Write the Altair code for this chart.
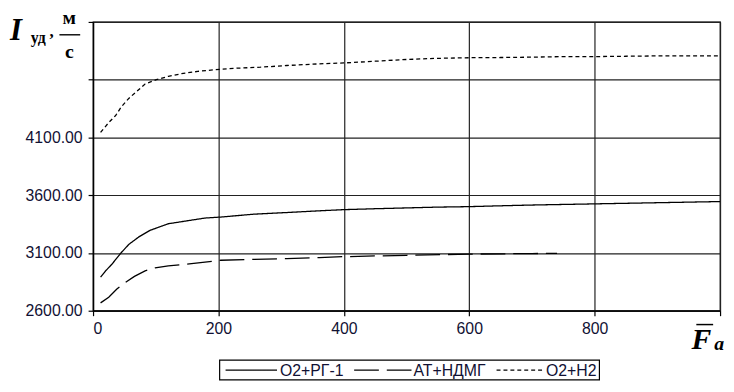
import altair as alt
import pandas as pd

# ---- data ----
s1_name = "O2+РГ-1"
s1_x = [12, 20, 30, 44, 57, 73, 91, 120, 151, 178, 204, 257, 309, 361, 400, 450, 500, 550, 600, 640, 700, 800, 900, 1000]
s1_y = [2890, 2945, 3002, 3097, 3174, 3239, 3296, 3353, 3379, 3402, 3411, 3436, 3450, 3465, 3475, 3483, 3490, 3497, 3501, 3507, 3515, 3525, 3535, 3545]

s2_name = "АТ+НДМГ"
s2_x = [12, 25, 38, 50, 66, 83, 99, 120, 138, 157, 204, 257, 309, 361, 400, 500, 600, 700, 740]
s2_y = [2668, 2717, 2788, 2840, 2897, 2945, 2971, 2988, 2997, 3008, 3037, 3045, 3051, 3060, 3068, 3080, 3090, 3095, 3097]

s3_name = "O2+H2"
s3_x = [12, 25, 36, 45, 57, 70, 83, 101, 120, 141, 167, 194, 230, 267, 309, 361, 400, 450, 500, 550, 600, 650, 700, 750, 800, 850, 900, 950, 1000]
s3_y = [4144, 4229, 4290, 4364, 4438, 4500, 4563, 4600, 4629, 4652, 4672, 4686, 4700, 4708, 4723, 4737, 4745, 4760, 4775, 4785, 4790, 4792, 4795, 4800, 4800, 4803, 4806, 4806, 4806]

series_order = [s1_name, s2_name, s3_name]
series_dash = [[1, 0], [25, 8], [4, 3]]
x_ticks = [0, 200, 400, 600, 800, 1000]
y_ticks = [2600, 3100, 3600, 4100, 4600, 5100]

rows = []
for name, xs, ys in [(s1_name, s1_x, s1_y), (s2_name, s2_x, s2_y), (s3_name, s3_x, s3_y)]:
    for xv, yv in zip(xs, ys):
        rows.append({"series": name, "x": xv, "y": yv})
df = pd.DataFrame(rows)

W, H = 634, 292
FONT = "Liberation Sans"
SERIF = "Liberation Serif"
LBL = "#111133"

lines = alt.Chart(df).mark_line(color="black", strokeWidth=1.3).encode(
    x=alt.X("x:Q", scale=alt.Scale(domain=[0, 1000], nice=False, zero=False),
            axis=alt.Axis(values=x_ticks, title=None, grid=True,
                          labelExpr="datum.value < 1000 ? datum.label : ''",
                          format="d")),
    y=alt.Y("y:Q", scale=alt.Scale(domain=[2600, 5100], nice=False, zero=False),
            axis=alt.Axis(values=y_ticks, title=None, grid=True,
                          labelExpr="datum.value <= 4100 ? format(datum.value, '.2f') : ''")),
    strokeDash=alt.StrokeDash("series:N",
                              scale=alt.Scale(domain=series_order, range=series_dash),
                              legend=None),
    detail="series:N",
)

one = pd.DataFrame({"a": [0]})

def txt(t, x, y, size, font=SERIF, italic=False, bold=True, align="left", baseline="alphabetic", color="black"):
    return alt.Chart(one).mark_text(
        text=t, font=font, fontSize=size, fontWeight="bold" if bold else "normal",
        fontStyle="italic" if italic else "normal", align=align, baseline=baseline,
        color=color
    ).encode(x=alt.value(x), y=alt.value(y))

def rule(x1, x2, y, dash=None, width=1.2):
    kw = {"color": "black", "strokeWidth": width}
    if dash is not None:
        kw["strokeDash"] = dash
    return alt.Chart(one).mark_rule(**kw).encode(
        x=alt.value(x1), x2=alt.value(x2), y=alt.value(y))

decor = [
    txt("I", -84, 18, 31, italic=True),
    txt("уд", -63, 21, 16),
    txt(",", -44, 15, 17),
    txt("м", -24, 2, 20, align="center"),
    rule(-34, -13, 13, width=1.4),
    txt("с", -24, 36, 20, align="center"),
    txt("F", 605, 331, 30, italic=True),
    rule(610, 627, 306, width=1.5),
    txt("a", 628, 332, 20, italic=True),
]

# legend drawn as a framed box below the plot
leg_box = alt.Chart(one).mark_rect(fill="white", stroke="black", strokeWidth=1.2).encode(
    x=alt.value(128), x2=alt.value(512), y=alt.value(342), y2=alt.value(362))
leg_y = 352
leg_sym = [(134, 186), (264, 323), (408, 456)]
leg_txt = [189, 324, 458]
legend = [leg_box]
for name, dash, (a, b), tx in zip(series_order, series_dash, leg_sym, leg_txt):
    legend.append(rule(a, b, leg_y, dash=dash, width=1.2))
    legend.append(txt(name, tx, leg_y + 1, 16, font=FONT, bold=False, baseline="middle", color=LBL))

chart = alt.layer(lines, *decor, *legend).properties(
    width=W, height=H,
    padding={"left": 86, "top": 12, "right": 6, "bottom": 72},
    autosize=alt.AutoSizeParams(type="none"),
    background="white",
).configure_view(stroke="black", strokeWidth=1.3).configure_axis(
    domainColor="black", domainWidth=1.3, gridColor="#222222", gridWidth=1.2, gridOpacity=1,
    tickColor="black", tickSize=5, tickWidth=1.2,
    labelFont=FONT, labelFontSize=16, labelColor=LBL, labelPadding=5,
).configure_axisY(labelPadding=6)

chart.save("out.html", embed_options={"renderer": "svg", "actions": False})
